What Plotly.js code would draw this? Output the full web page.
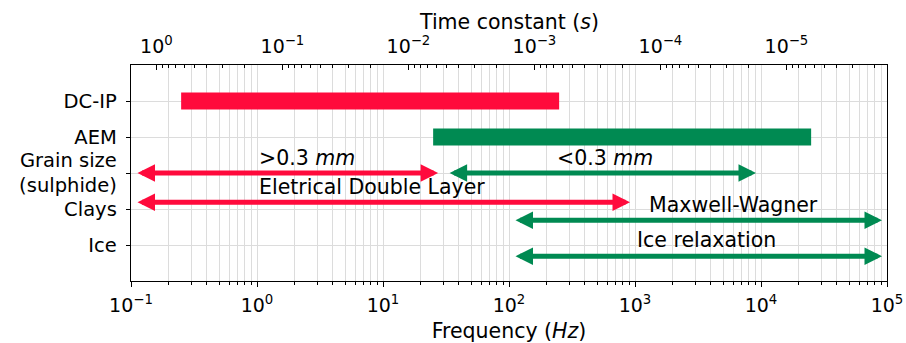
<!DOCTYPE html>
<html>
<head>
<meta charset="utf-8">
<script src="https://cdn.plot.ly/plotly-3.0.1.min.js"></script>
<style>html,body{margin:0;padding:0;background:#fff}#chart{width:906px;height:343px}</style>
</head>
<body>
<div id="chart"></div>
<script>
// Categories (y positions, top to bottom)
var categories = ["DC-IP", "AEM", "Grain size<br>(sulphide)", "Clays", "Ice"];
var categoryY = [5, 4, 3, 2, 1];

// Method bands (Hz)
var bandNames = ["DC-IP", "AEM"];
var bandY = [5, 4];
var bandStart = [0.25, 25];
var bandEnd = [250, 25000];
var bandColors = ["#ff0a3c", "#008a52"];

// Double-headed ranges (Hz)
var rangeY = [3, 3, 2.19, 1.69, 0.69];
var rangeStart = [0.1, 30, 0.1, 100, 100];
var rangeEnd = [30, 1e4, 1000, 1e5, 1e5];
var rangeColors = ["#ff0a3c", "#008a52", "#ff0a3c", "#008a52", "#008a52"];

// Range labels
var labelText = ["&gt;0.3 <i>mm</i>", "&lt;0.3 <i>mm</i>", "Eletrical Double Layer", "Maxwell-Wagner", "Ice relaxation"];
var labelX = [1, 230, 1, 1250, 1000];
var labelY = [3.42, 3.42, 2.61, 2.11, 1.14];

// Axis tick exponents
var freqExponents = [-1, 0, 1, 2, 3, 4, 5];
var tauExponents = [0, -1, -2, -3, -4, -5];

// Frequency axis range (Hz); time constant tau = 1/(2*pi*f)
var freqRange = [0.1, 1e5];

var font = "DejaVu Sans, sans-serif";

function powLabel(e) { return "10<sup>" + (e < 0 ? "\u2212" + (-e) : e) + "</sup>"; }
function minorList(exps) {
  var out = [];
  var lo = Math.min.apply(null, exps) - 1, hi = Math.max.apply(null, exps) + 1;
  for (var e = lo; e <= hi; e++) for (var d = 2; d <= 9; d++) out.push(d * Math.pow(10, e));
  return out;
}

var tauRange = freqRange.map(function (f) { return 1 / (2 * Math.PI * f); });

var traces = [{
  type: "bar",
  orientation: "h",
  y: bandY,
  base: bandStart,
  x: bandEnd.map(function (e, i) { return e - bandStart[i]; }),
  width: 0.47,
  marker: { color: bandColors, line: { width: 0 } },
  hoverinfo: "skip",
  showlegend: false
}, {
  type: "scatter",
  mode: "markers",
  xaxis: "x2", yaxis: "y",
  x: tauRange,
  y: [categoryY[0], categoryY[0]],
  marker: { opacity: 0, size: 1 },
  hoverinfo: "skip",
  showlegend: false
}];

var annotations = [];
for (var i = 0; i < rangeY.length; i++) {
  annotations.push({
    xref: "x", yref: "y", axref: "x", ayref: "y",
    x: Math.log10(rangeEnd[i]), y: rangeY[i],
    ax: Math.log10(rangeStart[i]), ay: rangeY[i],
    text: "", showarrow: true,
    arrowside: "end+start",
    arrowhead: 2, startarrowhead: 2,
    arrowsize: 0.7, startarrowsize: 0.7,
    arrowwidth: 5,
    standoff: 5, startstandoff: 5,
    arrowcolor: rangeColors[i]
  });
}
for (var j = 0; j < labelText.length; j++) {
  annotations.push({
    xref: "x", yref: "y",
    x: Math.log10(labelX[j]), y: labelY[j],
    text: labelText[j], showarrow: false,
    xanchor: "left", yanchor: "middle",
    font: { family: font, size: 20.5, color: "#000" }
  });
}
// Top axis title
annotations.push({
  xref: "paper", yref: "paper", x: 0.5, y: 1.2,
  xanchor: "center", yanchor: "middle", showarrow: false,
  text: "Time constant (<i>s</i>)",
  font: { family: font, size: 20.5, color: "#000" }
});

var layout = {
  width: 906, height: 343,
  margin: { l: 131, r: 19, t: 65, b: 62 },
  paper_bgcolor: "#fff", plot_bgcolor: "#fff",
  font: { family: font, size: 19, color: "#000" },
  showlegend: false,
  xaxis: {
    type: "log",
    range: freqRange.map(Math.log10),
    tickmode: "array",
    tickvals: freqExponents.map(function (e) { return Math.pow(10, e); }),
    ticktext: freqExponents.map(powLabel),
    showgrid: true, gridcolor: "#dcdcdc", gridwidth: 1,
    minor: { tickmode: "array", tickvals: minorList(freqExponents), showgrid: true, gridcolor: "#dcdcdc", gridwidth: 1, ticks: "outside", ticklen: 2.5, tickcolor: "#000" },
    ticks: "outside", ticklen: 4.5, tickcolor: "#000", tickwidth: 1,
    showline: true, linecolor: "#000", linewidth: 1.3, mirror: true,
    zeroline: false,
    ticklabelstandoff: 2,
    tickfont: { family: font, size: 19 },
    title: { text: "Frequency (<i>Hz</i>)", font: { family: font, size: 20.5 }, standoff: 9 }
  },
  xaxis2: {
    type: "log",
    overlaying: "x", side: "top", anchor: "y",
    range: tauRange.map(Math.log10),
    tickmode: "array",
    tickvals: tauExponents.map(function (e) { return Math.pow(10, e); }),
    ticktext: tauExponents.map(powLabel),
    showgrid: false,
    minor: { tickmode: "array", tickvals: minorList(tauExponents), showgrid: false, ticks: "inside", ticklen: 2.5, tickcolor: "#000" },
    ticks: "inside", ticklen: 5, tickcolor: "#000",
    showline: true, linecolor: "#000", linewidth: 1.3,
    zeroline: false,
    ticklabelstandoff: 3,
    tickfont: { family: font, size: 19 }
  },
  yaxis: {
    range: [0, 6],
    tickvals: categoryY,
    ticktext: categories,
    showgrid: true, gridcolor: "#dcdcdc", gridwidth: 1,
    ticks: "outside", ticklen: 4, tickcolor: "#000",
    showline: true, linecolor: "#000", linewidth: 1.3, mirror: true,
    zeroline: false,
    ticklabelstandoff: 5,
    tickfont: { family: font, size: 19.5 }
  },
  annotations: annotations
};

Plotly.newPlot("chart", traces, layout, { staticPlot: true, displayModeBar: false });
</script>
</body>
</html>
